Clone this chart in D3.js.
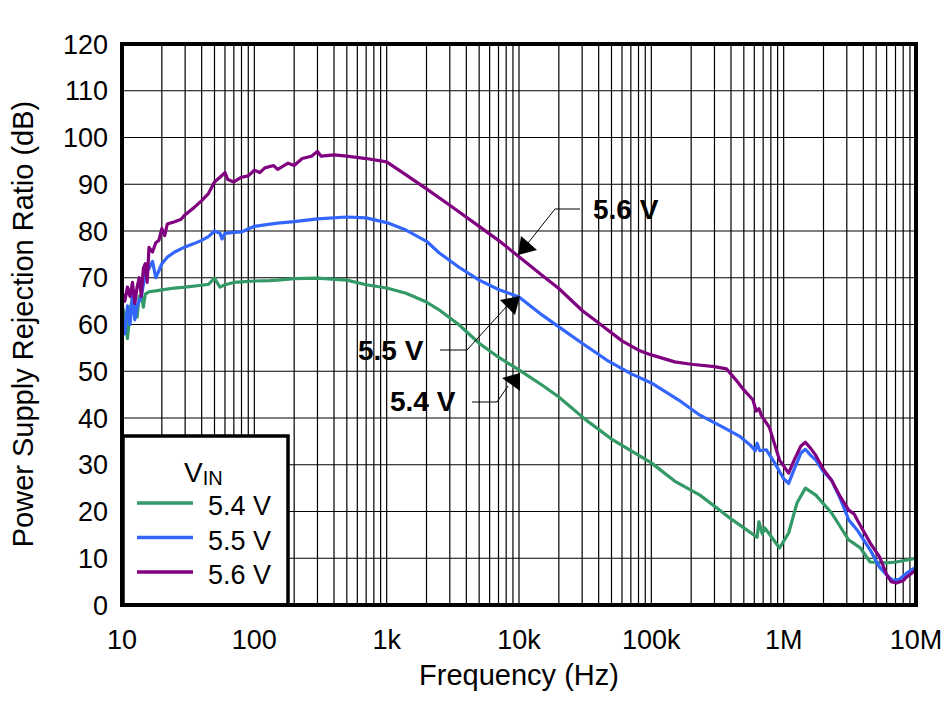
<!DOCTYPE html>
<html><head><meta charset="utf-8">
<script src="https://cdn.jsdelivr.net/npm/d3@7"></script>
<style>body{margin:0;background:#fff}svg{display:block}text{font-family:"Liberation Sans",Arial,sans-serif}</style>
</head><body>
<svg id="c" width="944" height="701"></svg>
<script>
const xTickValues = [10, 100, 1e3, 1e4, 1e5, 1e6, 1e7];
const xTickLabels = ["10", "100", "1k", "10k", "100k", "1M", "10M"];
const yTickValues = [0,10,20,30,40,50,60,70,80,90,100,110,120];

const freq54 = [10,10.5,11,11.5,12,12.5,13,13.5,14,14.5,15,16,18,20,25,30,40,45,50,55,60,70,80,100,130,150,200,300,500,700,1000,1400,2000,2500,3500,5000,7000,10000,15000,20000,32000,50000,70000,100000,150000,233000,410000,500000,630000,650000,690000,720000,760000,930000,1.09e6,1.26e6,1.46e6,1.75e6,2.3e6,3.1e6,3.35e6,3.8e6,4.5e6,6e6,7.1e6,1e7];
const db54 = [64,62,57,63,65.9,64,61.6,66,66.3,63.7,66.5,67,67.2,67.4,67.8,68,68.4,68.6,69.9,68,68.5,69,69.1,69.3,69.4,69.5,69.8,69.9,69.5,68.5,67.8,66.7,64.8,63.1,60,56,53,50.3,47,44.5,39.6,35.5,33,30.4,26.5,23.5,18.2,16.5,14.5,17.8,15.2,16.5,15.6,12.2,15.4,21.8,25,23.5,19.7,13.9,13.3,12.2,9.2,9,9.2,10];

const freq55 = [10,10.5,11,11.5,12,12.5,13,14,15,16,17,18,19,20,22,25,30,35,40,45,50,55,57,60,70,80,100,120,150,200,300,500,700,1000,1400,2000,2500,3500,5000,7000,10000,15000,20000,30000,46000,70000,100000,160000,233000,350000,470000,560000,610000,630000,660000,740000,850000,1e6,1.09e6,1.2e6,1.35e6,1.46e6,1.6e6,1.75e6,2e6,2.3e6,2.7e6,3.1e6,3.3e6,3.6e6,4.5e6,5.3e6,6.2e6,6.7e6,7.5e6,8.5e6,1e7];
const db55 = [62,58,64,60,66,61,64,66,71,72,73.5,70,71.5,73,74.4,75.5,76.6,77.3,78,78.8,80,79.5,78.3,79.5,79.7,79.8,81,81.3,81.7,82,82.6,83,82.8,81.8,80.2,77.8,75.3,72.3,69.5,67.5,65.9,62,59.5,56,52.4,49.5,47.5,43.9,40.6,38,36,34.2,33,34.6,33,33.2,30.5,27,26,29,32.5,33.3,32,31,28.5,26.7,22.5,18.2,17.3,16,11.8,8.1,6,5.3,5.5,6.8,8.1];

const freq56 = [10,10.5,11,11.5,12,12.5,13,13.5,14,14.5,15,15.5,16,17,18,19,20,21,22,25,28,30,35,40,45,50,55,60,63,70,80,90,100,110,120,140,150,180,200,230,270,300,320,400,500,700,1000,1400,2000,3000,5000,7000,10000,15000,20000,30000,40000,60000,80000,100000,150000,200000,300000,370000,440000,500000,585000,620000,650000,680000,780000,930000,1.09e6,1.2e6,1.35e6,1.46e6,1.6e6,1.75e6,2e6,2.3e6,2.7e6,3.1e6,3.4e6,3.6e6,4.5e6,5.3e6,6e6,6.5e6,7.1e6,8e6,8.5e6,1e7];
const db56 = [67,65,68,66,69,64.5,68,70,66,72,73,69,76.5,75.5,77.5,78,80.5,79,81.5,82,82.5,83.5,85,86.5,88,90.5,91.5,92.5,91,90.5,91.5,91.8,93,92.5,93.5,94,93.2,94.5,94,95.5,96,97,96,96.3,96,95.5,94.8,92,89,85.5,81,78,74.5,70.5,67.7,63,60.3,56.5,54.5,53.5,52,51.5,51,50.5,48,46,43.9,41.5,42,40.5,38,31,28.2,31,34,34.8,33.5,32,29,26.7,23,20.3,19.5,18.2,13.3,10.3,6.5,5,4.7,5.2,6,7.5];

const seriesNames = ["5.4 V", "5.5 V", "5.6 V"];
const seriesColors = ["#339966", "#3366FF", "#800080"];

const svg = d3.select("#c");
const L = 122, R = 916, T = 44, B = 605;
const x = d3.scaleLog().domain([10, 1e7]).range([L, R]);
const y = d3.scaleLinear().domain([0, 120]).range([B, T]);

// grid
const g = svg.append("g");
g.selectAll("line.v").data(x.ticks()).enter().append("line")
  .attr("x1", d => x(d)).attr("x2", d => x(d)).attr("y1", T).attr("y2", B)
  .attr("stroke", "#000").attr("stroke-width", 1.2);
g.selectAll("line.h").data(yTickValues).enter().append("line")
  .attr("y1", d => y(d)).attr("y2", d => y(d)).attr("x1", L).attr("x2", R)
  .attr("stroke", "#000").attr("stroke-width", 1.2);

// series
const data = [[freq54, db54], [freq55, db55], [freq56, db56]];
const line = d3.line().x(d => x(d[0])).y(d => y(d[1]));
data.forEach((s, i) => {
  const pts = s[0].map((f, j) => [f, s[1][j]]);
  svg.append("path").datum(pts).attr("d", line).attr("fill", "none")
    .attr("stroke", seriesColors[i]).attr("stroke-width", 3.2).attr("stroke-linejoin", "round");
});

// annotations
function ann(label, tx, ty, pts, tri) {
  svg.append("text").attr("x", tx).attr("y", ty).attr("text-anchor", "start")
    .attr("font-size", 28).attr("font-weight", "bold").text(label);
  svg.append("polyline").attr("points", pts.map(p => p.join(",")).join(" "))
    .attr("fill", "none").attr("stroke", "#000").attr("stroke-width", 1);
  svg.append("polygon").attr("points", tri.map(p => p.join(",")).join(" ")).attr("fill", "#000");
}
ann("5.6 V", 593, 219, [[580,209],[555,209],[528,243]], [[518,255],[521,236],[537,250]]);
ann("5.5 V", 358, 360, [[440,350],[467,350],[507,306]], [[520,296],[500,300],[515,315]]);
ann("5.4 V", 390, 411, [[472,402],[497,402],[508,386]], [[520,373],[502,378],[520,391]]);

// legend
svg.append("rect").attr("x", 123).attr("y", 436).attr("width", 165).attr("height", 169)
  .attr("fill", "#fff").attr("stroke", "#000").attr("stroke-width", 3.5);
const vin = svg.append("text").attr("x", 184).attr("y", 482).attr("font-size", 28);
vin.append("tspan").text("V");
vin.append("tspan").attr("font-size", 20).attr("dy", 3).text("IN");
seriesNames.forEach((n, i) => {
  const yy = 503 + i * 34.5;
  svg.append("line").attr("x1", 137).attr("x2", 193).attr("y1", yy).attr("y2", yy)
    .attr("stroke", seriesColors[i]).attr("stroke-width", 3.5);
  svg.append("text").attr("x", 208).attr("y", yy + 12).attr("font-size", 27).text(n);
});

// frame
svg.append("rect").attr("x", L).attr("y", T).attr("width", R - L).attr("height", B - T)
  .attr("fill", "none").attr("stroke", "#000").attr("stroke-width", 4);

// axes labels
svg.selectAll("text.yt").data(yTickValues).enter().append("text")
  .attr("x", 108).attr("y", d => y(d) + 9.7).attr("text-anchor", "end")
  .attr("font-size", 27).text(d => d);
svg.selectAll("text.xt").data(xTickValues).enter().append("text")
  .attr("x", d => x(d)).attr("y", 649).attr("text-anchor", "middle")
  .attr("font-size", 27).text((d, i) => xTickLabels[i]);
svg.append("text").attr("x", 519).attr("y", 685).attr("text-anchor", "middle")
  .attr("font-size", 29).text("Frequency (Hz)");
svg.append("text").attr("transform", "translate(33,324) rotate(-90)").attr("text-anchor", "middle")
  .attr("font-size", 29).text("Power Supply Rejection Ratio (dB)");
</script>
</body></html>
